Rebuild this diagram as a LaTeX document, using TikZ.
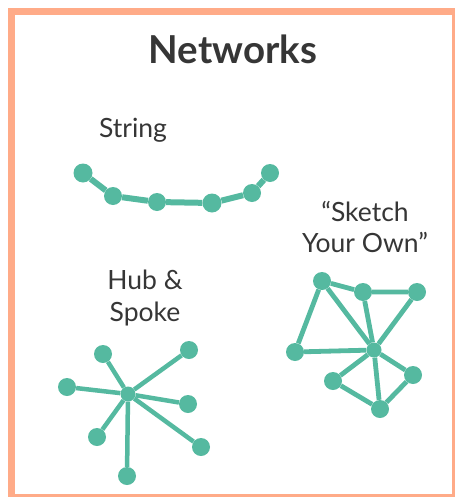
\documentclass[tikz,border=0pt]{standalone}
\usepackage{fontspec}
\setmainfont{Lato}
\usepackage{xcolor}
\usepackage{tikz}
\definecolor{teal}{HTML}{55B9A0}
\definecolor{peach}{HTML}{FFAB88}
\definecolor{ink}{HTML}{363636}

\begin{document}
\begin{tikzpicture}[x=1pt, y=-1pt,
    dot/.style={circle, fill=teal, inner sep=0pt, minimum size=18pt},
    link/.style={draw=teal, line width=#1},
    link/.default=4.8pt,
    lbl/.style={text=ink, align=center, font=\fontsize{26.5}{31.5}\selectfont}]
                \useasboundingbox (0,0) rectangle (455,498);
                % frame
                \fill[peach] (8,8) rectangle (455,15);
                \fill[peach] (8,8) rectangle (15,497);
                \fill[peach] (452,8) rectangle (455,497);
                \fill[peach] (8,494) rectangle (455,497);
                \node[text=ink, font=\fontsize{38.5}{40}\selectfont\bfseries] (title) at (233,49) {Networks};
                % string
                \node[lbl] (stringlbl) at (133,130) {String};
                \node[dot, minimum size=19pt] (s1) at (83,173) {};
                \node[dot] (s2) at (113,196) {};
                \node[dot] (s3) at (157,202) {};
                \node[dot, minimum size=19pt] (s4) at (212,203) {};
                \node[dot] (s5) at (252,193) {};
                \node[dot] (s6) at (270,173) {};
                \draw[link=6pt] (s1) -- (s2) -- (s3) -- (s4) -- (s5) -- (s6);
                % hub and spoke
                \node[lbl] (hublbl) at (145,298) {Hub \&\\Spoke};
                \node[dot, minimum size=15pt] (hub) at (128,394) {};
                \foreach \name/\pos in {h1/{(103,354)}, h2/{(189,350)}, h3/{(67,387)}, h4/{(188,404)}, h5/{(97,437)}, h6/{(201,447)}, h7/{(127,476)}} {
                    \node[dot] (\name) at \pos {};
                    \draw[link=4.5pt] (hub) -- (\name);
                }
                % sketch your own
                \node[lbl] (sketchlbl) at (365,227) {“Sketch\\Your Own”};
                \node[dot, minimum size=15pt] (q) at (374,350) {};
                \node[dot] (p1) at (322,281) {};
                \node[dot] (p2) at (363,292) {};
                \node[dot] (p3) at (417,292) {};
                \node[dot] (p4) at (295,352) {};
                \node[dot] (p5) at (333,381) {};
                \node[dot] (p6) at (413,375) {};
                \node[dot] (p7) at (380,409) {};
                \draw[link] (p4) -- (p1) -- (p2) -- (p3) -- (q);
                \draw[link] (p1) -- (q);
                \draw[link] (p2) -- (q);
                \draw[link] (p4) -- (q);
                \draw[link] (q) -- (p5) -- (p7) -- (p6) -- (q);
                \draw[link] (q) -- (p7);
            \end{tikzpicture}
\end{document}
